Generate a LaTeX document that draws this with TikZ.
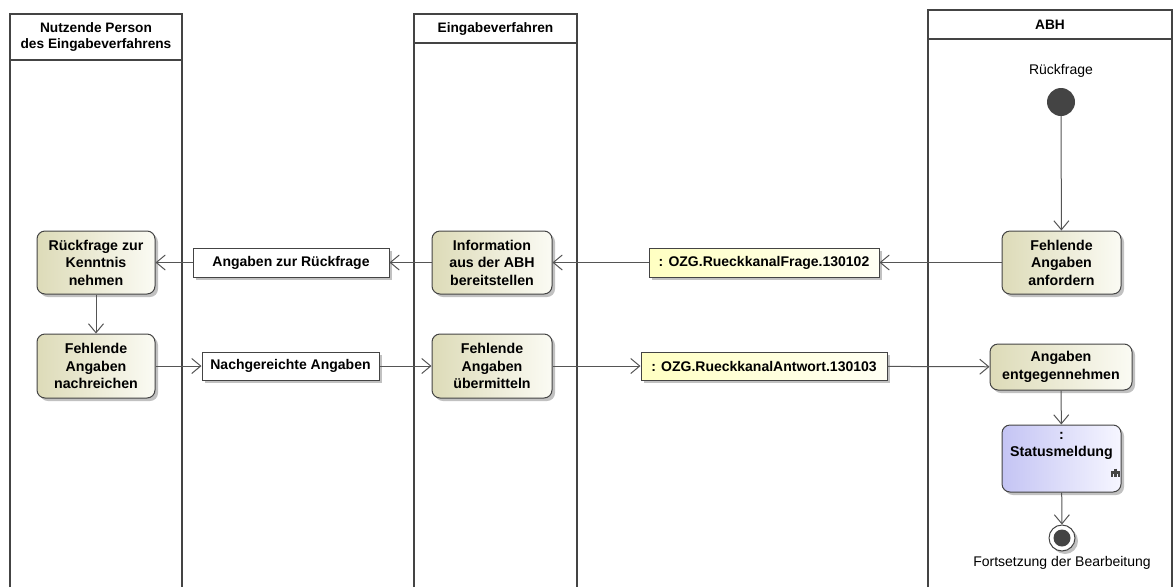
\documentclass[tikz,border=0pt]{standalone}
\usepackage{fontspec}
\setmainfont{Liberation Sans}
\usetikzlibrary{arrows.meta,shadows}
\definecolor{lanec}{HTML}{444444}
\definecolor{edgec}{HTML}{555555}
\definecolor{actl}{HTML}{DDDBB8}
\definecolor{actr}{HTML}{FBFBF4}
\definecolor{objl}{HTML}{FFFFC2}
\definecolor{objr}{HTML}{FFFFF4}
\definecolor{stl}{HTML}{C4C4F4}
\definecolor{str}{HTML}{F6F6FF}
\begin{document}
\begin{tikzpicture}[x=1pt,y=-1pt,
  every node/.style={font=\fontsize{14}{17}\selectfont},
  lane/.style={draw=lanec,line width=2pt},
  hdr/.style={font=\fontsize{13.7}{16.5}\selectfont\bfseries,align=center},
  shad/.style={drop shadow={shadow xshift=3pt,shadow yshift=-3pt,fill=black!35,opacity=0.7}},
  act/.style={draw=lanec,line width=1pt,rounded corners=8pt,left color=actl,right color=actr,
    align=center,font=\fontsize{14.2}{17.5}\selectfont\bfseries,inner sep=0pt,shad},
  obj/.style={draw=lanec,line width=1pt,fill=white,align=center,
    font=\fontsize{14}{17}\selectfont\bfseries,inner sep=0pt,shad},
  dobj/.style={obj,left color=objl,right color=objr},
  flow/.style={draw=edgec,line width=1pt,-{Straight Barb[length=9pt,width=15pt,line width=1pt]}},
  iconline/.style={draw=lanec,line width=2.4pt}
]
\useasboundingbox (0,0) rectangle (1173,587);
% lanes
\draw[lane] (10,587) -- (10,14) -- (182,14) -- (182,587);
\draw[lane] (10,60) -- (182,60);
\node[hdr] (h1) at (96,37) {Nutzende Person\\des Eingabeverfahrens};
\draw[lane] (414,587) -- (414,14) -- (577,14) -- (577,587);
\draw[lane] (414,43) -- (577,43);
\node[hdr] (h2) at (495.5,28.5) {Eingabeverfahren};
\draw[lane] (928,587) -- (928,10) -- (1172,10) -- (1172,587);
\draw[lane] (928,39) -- (1172,39);
\node[hdr] (h3) at (1050,24.5) {ABH};
% nodes
\node[act,minimum width=118pt,minimum height=63pt] (rk) at (96,262.5) {Rückfrage zur\\Kenntnis\\nehmen};
\node[act,minimum width=118pt,minimum height=64pt] (fn) at (96,366) {Fehlende\\Angaben\\nachreichen};
\node[obj,minimum width=196pt,minimum height=29pt] (azr) at (291,262.5) {Angaben zur Rückfrage};
\node[obj,minimum width=177pt,minimum height=28pt] (na) at (290.5,366) {Nachgereichte Angaben};
\node[act,minimum width=120pt,minimum height=63pt] (info) at (492,262.5) {Information\\aus der ABH\\bereitstellen};
\node[act,minimum width=120pt,minimum height=64pt] (fu) at (492,366) {Fehlende\\Angaben\\übermitteln};
\node[dobj,minimum width=230pt,minimum height=29pt] (ozf) at (764,262.5) {: OZG.RueckkanalFrage.130102};
\node[dobj,minimum width=246pt,minimum height=28pt] (oza) at (764,366) {: OZG.RueckkanalAntwort.130103};
\node[act,minimum width=119pt,minimum height=63pt] (anf) at (1061.5,262.5) {Fehlende\\Angaben\\anfordern};
\node[act,minimum width=142pt,minimum height=46pt] (ent) at (1061,367) {Angaben\\entgegennehmen};
\node[act,left color=stl,right color=str,minimum width=119pt,minimum height=67pt] (st) at (1061.5,458.5) {};
\node[font=\fontsize{14.2}{17.5}\selectfont\bfseries,align=center] (stlab) at (1061.5,446) {:\\Statusmeldung};
\draw[iconline] (1115.5,468.5) -- (1115.5,477);
\draw[iconline] (1110.8,472.5) -- (1120.2,472.5);
\draw[iconline] (1112,472.5) -- (1112,477);
\draw[iconline] (1119,472.5) -- (1119,477);
% initial / final
\node[circle,fill=lanec,minimum size=28pt,inner sep=0pt] (ini) at (1061,102) {};
\node (inilab) at (1061,71) {Rückfrage};
\node[circle,draw=lanec,line width=1pt,fill=white,minimum size=26pt,inner sep=0pt,shad] (fin) at (1062,538) {};
\node[circle,fill=lanec,minimum size=17pt,inner sep=0pt] (finin) at (fin.center) {};
\node (finlab) at (1062,563) {Fortsetzung der Bearbeitung};
% flows
\draw[flow] (ini) -- (anf);
\draw[flow] (anf) -- (ozf);
\draw[flow] (ozf) -- (info);
\draw[flow] (info) -- (azr);
\draw[flow] (azr) -- (rk);
\draw[flow] (rk) -- (fn);
\draw[flow] (fn) -- (na);
\draw[flow] (na) -- (fu);
\draw[flow] (fu) -- (oza);
\draw[flow] (oza) -- (ent);
\draw[flow] (ent) -- (st);
\draw[flow] (st) -- (fin);
\end{tikzpicture}
\end{document}
